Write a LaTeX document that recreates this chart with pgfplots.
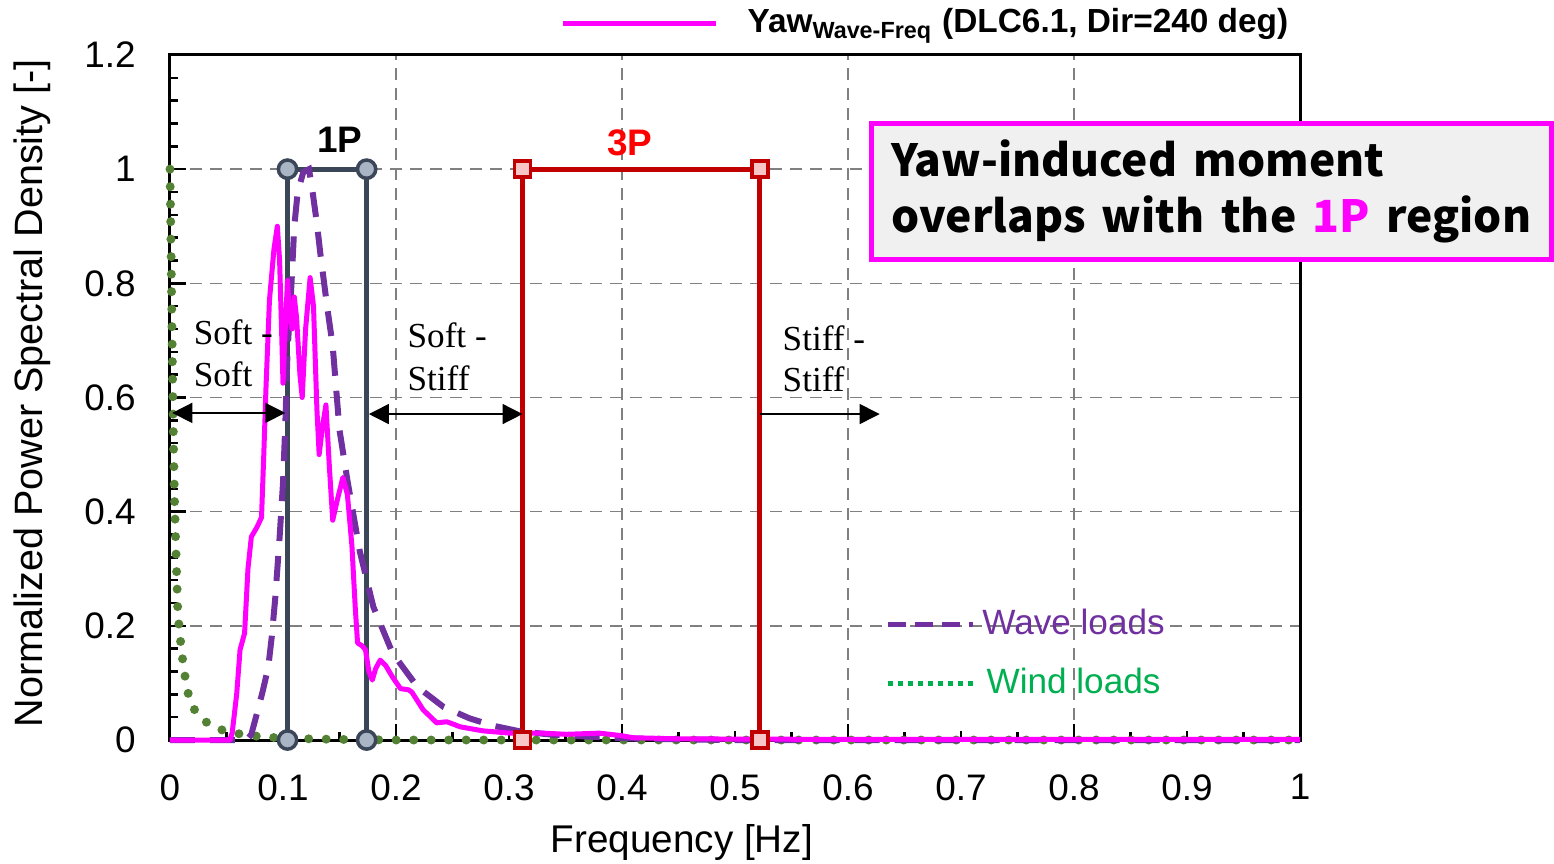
\documentclass[border=0pt]{standalone}
\usepackage{fontspec}
\setmainfont{Liberation Sans}
\newfontfamily\seriffont{Liberation Serif}
\newfontfamily\boxfont{Noto Sans CJK KR}
\usepackage{pgfplots}
\pgfplotsset{compat=1.18}
\usetikzlibrary{arrows.meta}
\definecolor{wavec}{HTML}{7030A0}
\definecolor{windc}{HTML}{548235}
\definecolor{windtxt}{HTML}{00B050}
\definecolor{yawc}{HTML}{FF00FF}
\definecolor{onep}{HTML}{3B4658}
\definecolor{onepfill}{HTML}{A9B4C4}
\definecolor{threep}{HTML}{C00000}
\definecolor{threepfill}{HTML}{F8C6C6}
\definecolor{boxfill}{HTML}{F0F0F0}
\begin{document}
\begin{tikzpicture}
\begin{axis}[
  name=ax,
  scale only axis, width=11.3cm, height=6.85cm,
  xmin=0, xmax=1, ymin=0, ymax=1.2,
  clip=false,
  axis line style={line width=0.3mm},
  xtick={0,0.2,0.4,0.6,0.8,1},
  ytick={0,0.2,0.4,0.6,0.8,1,1.2},
  extra x ticks={0.1,0.3,0.5,0.7,0.9},
  extra x tick style={xmajorgrids=false, major tick length=0.9mm},
  minor x tick num=3, minor y tick num=4,
  tick pos=left, tick align=inside,
  major tick length=1.6mm, minor tick length=0.8mm,
  every tick/.style={black, line width=0.25mm},
  xmajorgrids, ymajorgrids,
  grid style={gray, line width=0.15mm, dash pattern=on 1.2mm off 0.8mm},
  /pgf/number format/assume math mode=true,
  ticklabel style={font=\fontsize{10.5}{12}\selectfont},
  xticklabel style={yshift=-2.2mm},
  yticklabel style={xshift=-2.2mm},
  xlabel={Frequency [Hz]},
  ylabel={Normalized Power Spectral Density [-]},
  xlabel style={font=\fontsize{11}{13}\selectfont, at={(axis description cs:0.453,-0.149)}, anchor=center},
  ylabel style={font=\fontsize{11.25}{13}\selectfont, at={(axis description cs:-0.122,0.506)}, anchor=center},
  legend image code/.code={\draw[#1] (0cm,0cm) -- (1.53cm,0cm);},
  legend style={draw=none, fill=none, at={(0.345,1.046)}, anchor=west, inner sep=0pt,
    font=\fontsize{9.5}{11}\selectfont\bfseries,
    /tikz/every odd column/.append style={column sep=2.2mm}},
]
% 1P and 3P region lines
\addplot[color=onep, line width=0.5mm, forget plot] coordinates {(0.104,0) (0.104,1) (0.174,1) (0.174,0)};
\addplot[color=threep, line width=0.5mm, forget plot] coordinates {(0.312,0) (0.312,1) (0.522,1) (0.522,0)};
% Wind loads
\addplot[color=windc, line width=0.9mm, line cap=round, dash pattern=on 0pt off 1.75mm, forget plot] coordinates {
(0,1.0) (0.001,0.85) (0.002,0.68) (0.003,0.53) (0.004,0.42) (0.005,0.35) (0.007,0.22)
(0.010,0.16) (0.012,0.128) (0.015,0.09) (0.018,0.067) (0.022,0.052) (0.027,0.04)
(0.033,0.03) (0.038,0.023) (0.050,0.015) (0.069,0.008) (0.1,0.003) (0.15,0.001) (0.2,0) (1,0)};
% Wave loads
\addplot[color=wavec, line width=0.6mm, dash pattern=on 2.5mm off 1.5mm, forget plot] coordinates {
(0,0) (0.068,0) (0.072,0.01) (0.077,0.047) (0.082,0.085) (0.087,0.128) (0.090,0.18)
(0.093,0.245) (0.097,0.355) (0.100,0.45) (0.102,0.55) (0.104,0.68) (0.107,0.78)
(0.110,0.90) (0.113,0.96) (0.118,0.995) (0.123,1.0) (0.126,0.963) (0.130,0.905)
(0.133,0.853) (0.139,0.76) (0.144,0.69) (0.150,0.543) (0.157,0.455) (0.168,0.33)
(0.180,0.233) (0.197,0.152) (0.219,0.093) (0.242,0.058) (0.265,0.038) (0.286,0.025)
(0.31,0.015) (0.34,0.009) (0.38,0.005) (0.42,0.002) (0.5,0) (1,0)};
% Yaw wave-freq
\addplot[color=yawc, line width=0.5mm, line join=round] coordinates {
(0,0) (0.053,0) (0.055,0.012) (0.059,0.08) (0.062,0.158) (0.066,0.187) (0.069,0.30)
(0.072,0.356) (0.077,0.373) (0.081,0.39) (0.083,0.50) (0.085,0.62) (0.088,0.77)
(0.092,0.86) (0.095,0.90) (0.097,0.84) (0.099,0.70) (0.100,0.625) (0.102,0.72)
(0.104,0.805) (0.106,0.74) (0.108,0.72) (0.110,0.776) (0.112,0.74) (0.115,0.64)
(0.117,0.60) (0.120,0.72) (0.124,0.81) (0.127,0.76) (0.130,0.58) (0.132,0.50)
(0.135,0.55) (0.138,0.587) (0.141,0.48) (0.144,0.385) (0.148,0.42) (0.153,0.46)
(0.157,0.43) (0.161,0.34) (0.164,0.23) (0.166,0.17) (0.170,0.165) (0.173,0.158)
(0.176,0.12) (0.179,0.105) (0.182,0.125) (0.186,0.14) (0.191,0.13) (0.197,0.11)
(0.204,0.09) (0.211,0.088) (0.214,0.084) (0.224,0.053) (0.236,0.03) (0.245,0.032)
(0.257,0.023) (0.277,0.016) (0.301,0.012) (0.33,0.012) (0.351,0.01) (0.38,0.012)
(0.398,0.008) (0.41,0.004) (0.45,0.002) (0.6,0.001) (1,0.001)};
\addlegendentry{Yaw\textsubscript{Wave-Freq} (DLC6.1, Dir=240 deg)}
% markers of regions
\addplot[only marks, mark=*, mark size=2.6pt, mark options={fill=onepfill, draw=onep, line width=0.35mm}, forget plot]
  coordinates {(0.104,0) (0.104,1) (0.174,1) (0.174,0)};
\addplot[only marks, mark=square*, mark size=2.3pt, mark options={fill=threepfill, draw=threep, line width=0.35mm}, forget plot]
  coordinates {(0.312,0) (0.312,1) (0.522,1) (0.522,0)};
% annotations
\node[font=\fontsize{10.5}{12}\selectfont\bfseries] at (axis cs:0.1504,1.051) {1P};
\node[font=\fontsize{10.5}{12}\selectfont\bfseries, text=red] at (axis cs:0.407,1.047) {3P};
\begin{scope}[font=\seriffont\fontsize{10}{12}\selectfont]
\node[anchor=base west, inner sep=0pt] at (axis cs:0.0204,0.692) {Soft -};
\node[anchor=base west, inner sep=0pt] at (axis cs:0.0204,0.620) {Soft};
\node[anchor=base west, inner sep=0pt] at (axis cs:0.2097,0.687) {Soft -};
\node[anchor=base west, inner sep=0pt] at (axis cs:0.2097,0.613) {Stiff};
\node[anchor=base west, inner sep=0pt] at (axis cs:0.5416,0.683) {Stiff -};
\node[anchor=base west, inner sep=0pt] at (axis cs:0.5416,0.611) {Stiff};
\end{scope}
\draw[line width=0.15mm, {Triangle[length=2mm,width=2mm]}-{Triangle[length=2mm,width=2mm]}] (axis cs:0.002,0.573) -- (axis cs:0.102,0.573);
\draw[line width=0.15mm, {Triangle[length=2mm,width=2mm]}-{Triangle[length=2mm,width=2mm]}] (axis cs:0.176,0.571) -- (axis cs:0.312,0.571);
\draw[line width=0.15mm, -{Triangle[length=2mm,width=2mm]}] (axis cs:0.522,0.571) -- (axis cs:0.628,0.571);
\node[draw=yawc, line width=0.5mm, fill=boxfill, anchor=north west, minimum width=6.8cm,
  inner xsep=0.2cm, inner ysep=0pt, minimum height=1.35cm, align=left,
  font=\boxfont\bfseries\fontsize{12.6}{15.8}\selectfont] at (axis cs:0.6185,1.0835)
  {\fontdimen2\font=0.37em\relax Yaw-induced moment\\overlaps with the \textcolor{yawc}{1P} region};
\end{axis}
\begin{axis}[
  scale only axis, width=11.3cm, height=6.85cm,
  xmin=0, xmax=1, ymin=0, ymax=1.2, hide axis,
  legend image code/.code={\draw[#1] (0cm,0cm) -- (0.85cm,0cm);},
  legend style={draw=none, fill=none, at={(0.632,0.126)}, anchor=west, inner sep=0pt,
    font=\fontsize{10}{12}\selectfont, row sep=1.4mm},
]
\addlegendimage{color=wavec, line width=0.55mm, dash pattern=on 1.8mm off 0.9mm}
\addlegendentry{\textcolor{wavec}{Wave loads}}
\addlegendimage{color=windtxt, line width=0.5mm, dash pattern=on 0.5mm off 0.5mm}
\addlegendentry{\textcolor{windtxt}{Wind loads}}
\end{axis}
\pgfresetboundingbox
\path ([shift={(-1.70cm,-1.23cm)}]ax.south west) rectangle ([shift={(13.84cm,7.40cm)}]ax.south west);
\end{tikzpicture}
\end{document}
